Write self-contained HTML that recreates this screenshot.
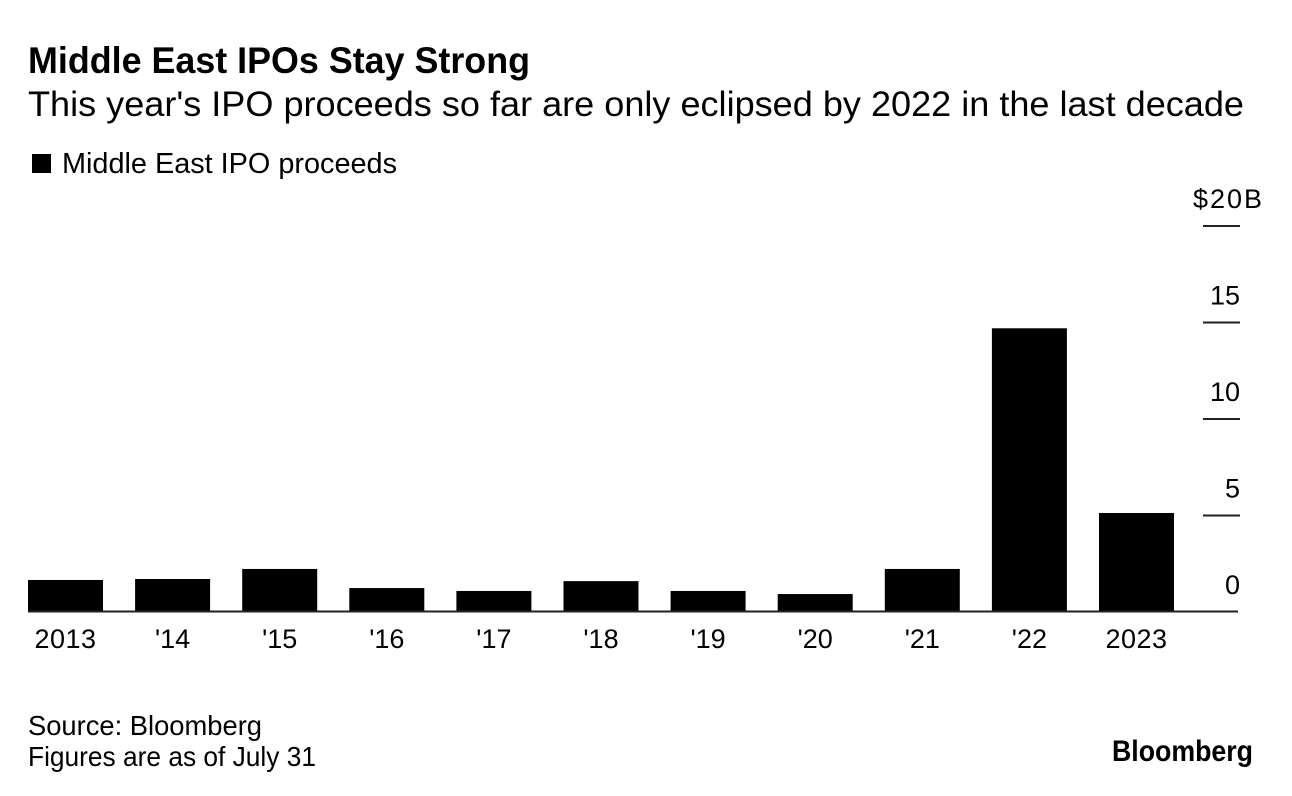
<!DOCTYPE html>
<html lang="en">
<head>
<meta charset="utf-8">
<title>Middle East IPOs Stay Strong</title>
<style>
html,body{margin:0;padding:0;background:#fff;}
body{width:1292px;height:796px;overflow:hidden;font-family:"Liberation Sans",sans-serif;color:#000;}
svg{display:block;}
text{font-family:"Liberation Sans",sans-serif;fill:#000;}
</style>
</head>
<body>
<svg id="chart" width="1292" height="796" viewBox="0 0 1292 796" xmlns="http://www.w3.org/2000/svg">
  <rect x="0" y="0" width="1292" height="796" fill="#fff"/>
  <text x="28" y="73" font-size="37" font-weight="700" textLength="502" lengthAdjust="spacingAndGlyphs">Middle East IPOs Stay Strong</text>
  <text x="28" y="116" font-size="35" textLength="1216" lengthAdjust="spacingAndGlyphs">This year's IPO proceeds so far are only eclipsed by 2022 in the last decade</text>
  <rect x="32" y="154" width="19" height="19" fill="#000"/>
  <text x="62" y="173" font-size="29" textLength="335" lengthAdjust="spacingAndGlyphs">Middle East IPO proceeds</text>
  <g id="bars"></g>
  <g id="x-labels"></g>
  <g id="y-axis"></g>
  <line x1="28" x2="1238" y1="611.5" y2="611.5" stroke="#222" stroke-width="2"/>
  <text x="28" y="735" font-size="27.5" textLength="234" lengthAdjust="spacingAndGlyphs">Source: Bloomberg</text>
  <text x="28" y="766" font-size="27.5" textLength="288" lengthAdjust="spacingAndGlyphs">Figures are as of July 31</text>
  <text x="1112" y="761" font-size="30" font-weight="700" textLength="141" lengthAdjust="spacingAndGlyphs">Bloomberg</text>
</svg>
<script>
const categories = ["2013", "'14", "'15", "'16", "'17", "'18", "'19", "'20", "'21", "'22", "2023"];
const proceeds = [1.66, 1.71, 2.23, 1.24, 1.09, 1.6, 1.09, 0.93, 2.23, 14.7, 5.13];
const tickValues = [0, 5, 10, 15, 20];
const tickLabels = ["0", "5", "10", "15", "$20B"];

const NS = "http://www.w3.org/2000/svg";
const plot = { left: 28, step: 107.1, barWidth: 75, zeroY: 612, unit: 19.3 };

function xLeft(i) { return plot.left + i * plot.step; }
function yPos(v) { return plot.zeroY - v * plot.unit; }

const barsGroup = document.getElementById("bars");
const xGroup = document.getElementById("x-labels");
const yGroup = document.getElementById("y-axis");

categories.forEach(function (cat, i) {
  const r = document.createElementNS(NS, "rect");
  r.setAttribute("x", xLeft(i));
  r.setAttribute("y", yPos(proceeds[i]));
  r.setAttribute("width", plot.barWidth);
  r.setAttribute("height", plot.zeroY - yPos(proceeds[i]));
  r.setAttribute("fill", "#000");
  
  
  barsGroup.appendChild(r);

  const t = document.createElementNS(NS, "text");
  t.setAttribute("x", xLeft(i) + plot.barWidth / 2);
  t.setAttribute("y", 648);
  t.setAttribute("font-size", "27");
  t.setAttribute("text-anchor", "middle");
  if (cat.length === 4) t.setAttribute("letter-spacing", "0.5");
  t.textContent = cat;
  
  
  xGroup.appendChild(t);
});

tickValues.forEach(function (v, i) {
  const y = yPos(v);
  if (v !== 0) {
    const l = document.createElementNS(NS, "line");
    l.setAttribute("x1", 1203);
    l.setAttribute("x2", 1240);
    l.setAttribute("y1", y);
    l.setAttribute("y2", y);
    l.setAttribute("stroke", "#222");
    l.setAttribute("stroke-width", "2");
    
    
    yGroup.appendChild(l);
  }
  const t = document.createElementNS(NS, "text");
  t.setAttribute("x", tickLabels[i].length > 2 ? 1264 : 1240);
  t.setAttribute("y", y - 18);
  t.setAttribute("font-size", "27");
  t.setAttribute("text-anchor", "end");
  if (tickLabels[i].length > 2) t.setAttribute("letter-spacing", "2");
  t.textContent = tickLabels[i];
  
  
  yGroup.appendChild(t);
});
</script>
</body>
</html>
